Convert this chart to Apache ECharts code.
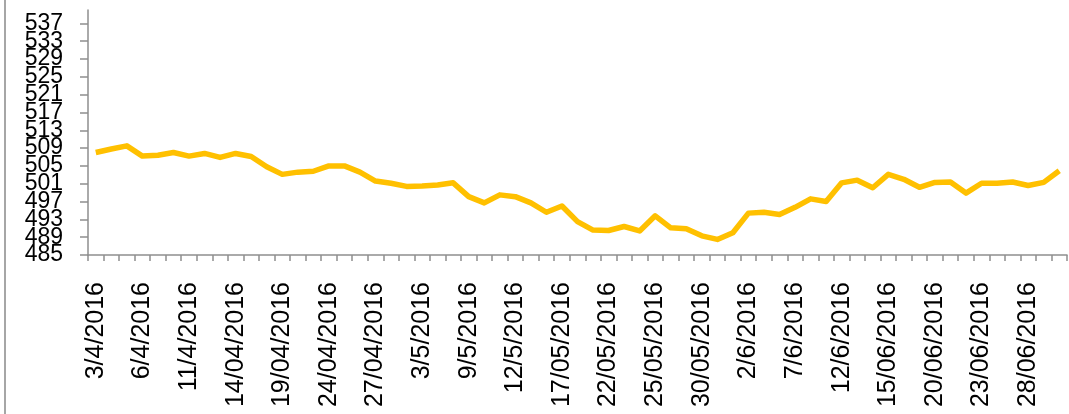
<!DOCTYPE html>
<html>
<head>
<meta charset="utf-8">
<script src="https://cdn.jsdelivr.net/npm/echarts@6/dist/echarts.min.js"></script>
<style>
html, body { margin: 0; padding: 0; background: #fff; }
#main { width: 1069px; height: 414px; }
</style>
</head>
<body>
<div id="main"></div>
<script>
// 日期 (每3个显示一个标签)
var dates = [
    '3/4/2016', '4/4/2016', '5/4/2016', '6/4/2016', '7/4/2016', '10/4/2016',
    '11/4/2016', '12/4/2016', '13/4/2016', '14/04/2016', '17/04/2016', '18/04/2016',
    '19/04/2016', '20/04/2016', '21/04/2016', '24/04/2016', '25/04/2016', '26/04/2016',
    '27/04/2016', '28/04/2016', '2/5/2016', '3/5/2016', '4/5/2016', '8/5/2016',
    '9/5/2016', '10/5/2016', '11/5/2016', '12/5/2016', '15/05/2016', '16/05/2016',
    '17/05/2016', '18/05/2016', '19/05/2016', '22/05/2016', '23/05/2016', '24/05/2016',
    '25/05/2016', '26/05/2016', '29/05/2016', '30/05/2016', '31/05/2016', '1/6/2016',
    '2/6/2016', '5/6/2016', '6/6/2016', '7/6/2016', '8/6/2016', '9/6/2016',
    '12/6/2016', '13/06/2016', '14/06/2016', '15/06/2016', '16/06/2016', '19/06/2016',
    '20/06/2016', '21/06/2016', '22/06/2016', '23/06/2016', '26/06/2016', '27/06/2016',
    '28/06/2016', '29/06/2016', '30/06/2016'
];

// 数值
var values = [
    508.0, 508.8, 509.5, 507.2, 507.4, 508.0, 507.2, 507.8, 506.9, 507.8,
    507.1, 504.8, 503.1, 503.6, 503.8, 505.0, 505.0, 503.6, 501.6, 501.1,
    500.4, 500.5, 500.7, 501.2, 498.1, 496.7, 498.5, 498.1, 496.7, 494.6,
    496.0, 492.5, 490.6, 490.5, 491.4, 490.4, 493.8, 491.1, 490.9, 489.3,
    488.5, 490.0, 494.4, 494.6, 494.1, 495.7, 497.6, 497.0, 501.2, 501.8,
    500.1, 503.1, 502.0, 500.2, 501.3, 501.4, 498.9, 501.1, 501.1, 501.4,
    500.6, 501.3, 503.9
];

// y轴刻度
var yTicks = [485, 489, 493, 497, 501, 505, 509, 513, 517, 521, 525, 529, 533, 537];

// 标签太挤，ECharts会隐藏第二个和倒数第二个，所以分两个轴画
var yTicksInner = [yTicks[1], yTicks[yTicks.length - 2]];
var yTicksMain = yTicks.filter(function (v) { return yTicksInner.indexOf(v) < 0; });

var myChart = echarts.init(document.getElementById('main'));

var axisGray = '#8e8e8e';
var font = 'Liberation Sans';

function yLabel(ticks) {
    return {
        customValues: ticks,
        showMinLabel: true,
        showMaxLabel: true,
        hideOverlap: false,
        margin: 25,
        color: '#000',
        fontFamily: font,
        fontSize: 23
    };
}

var option = {
    animation: false,
    backgroundColor: '#fff',
    graphic: [
        {
            type: 'line',
            shape: { x1: 5, y1: 0, x2: 5, y2: 414 },
            style: { stroke: '#a6a6a6', lineWidth: 2 }
        }
    ],
    grid: {
        left: 88,
        right: 2,
        top: 10,
        bottom: 159,
        containLabel: false
    },
    xAxis: {
        type: 'category',
        data: dates,
        boundaryGap: true,
        axisLine: { lineStyle: { color: axisGray, width: 1.5 } },
        axisTick: {
            show: true,
            interval: 0,
            length: 6,
            lineStyle: { color: axisGray, width: 1.5 }
        },
        axisLabel: {
            interval: 2,
            rotate: 90,
            margin: 27,
            color: '#000',
            fontFamily: font,
            fontSize: 25
        },
        splitLine: { show: false }
    },
    yAxis: [
        {
            type: 'value',
            position: 'left',
            min: 485,
            max: 540,
            axisLine: { show: true, lineStyle: { color: axisGray, width: 1.5 } },
            axisTick: {
                show: true,
                length: 8,
                customValues: yTicks,
                lineStyle: { color: axisGray, width: 1.5 }
            },
            axisLabel: yLabel(yTicksMain),
            splitLine: { show: false }
        },
        {
            type: 'value',
            position: 'left',
            offset: 0,
            min: 485,
            max: 540,
            axisLine: { show: false },
            axisTick: { show: false },
            axisLabel: yLabel(yTicksInner),
            splitLine: { show: false }
        }
    ],
    series: [
        {
            type: 'line',
            data: values,
            symbol: 'none',
            lineStyle: { color: '#FFC000', width: 5.5, join: 'round' },
            itemStyle: { color: '#FFC000' }
        }
    ]
};

myChart.setOption(option);
</script>
</body>
</html>
